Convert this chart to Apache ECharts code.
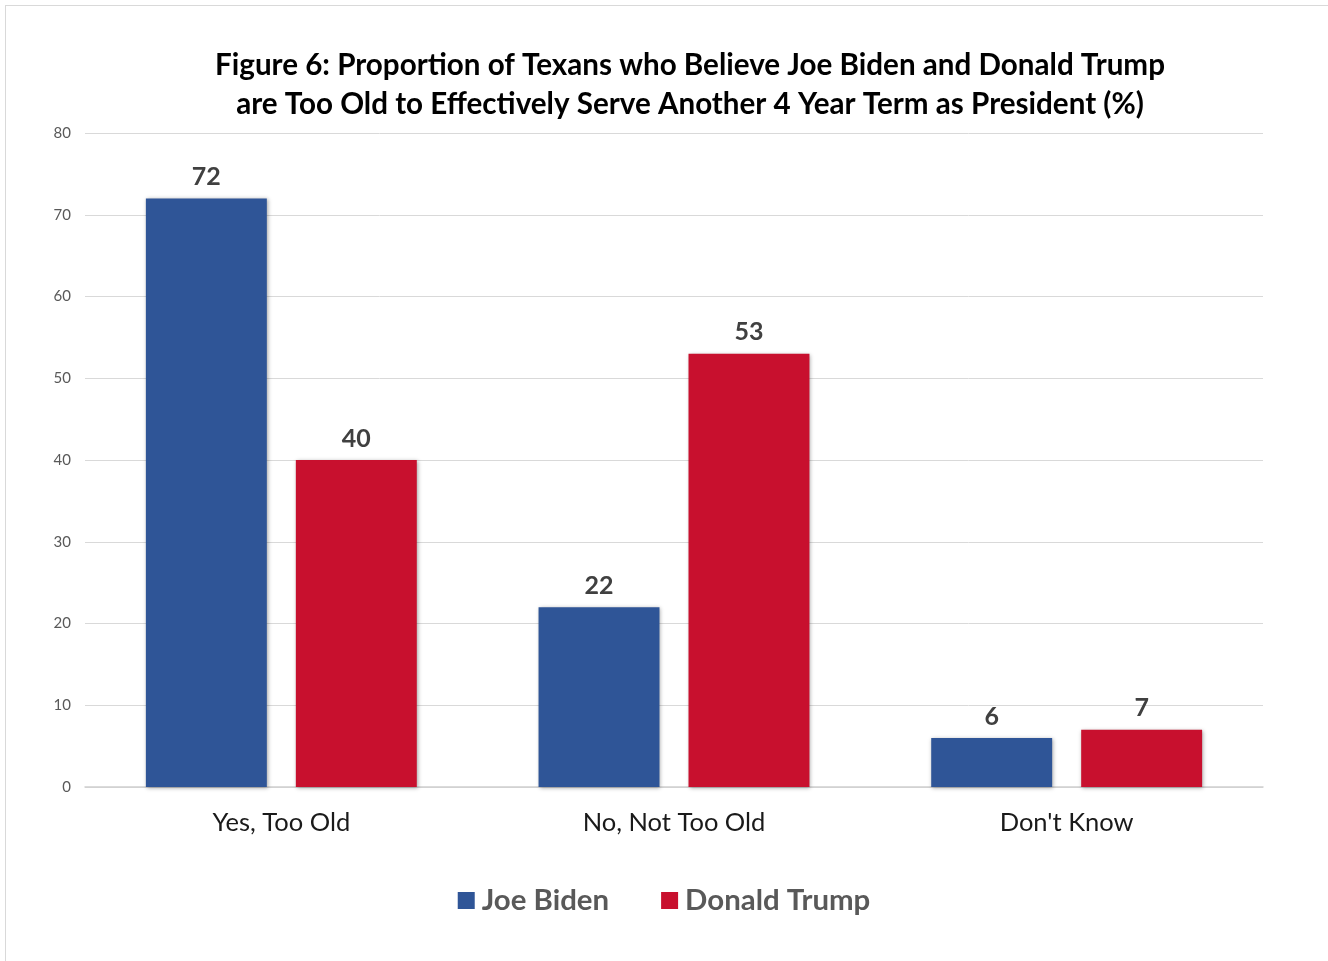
<!DOCTYPE html>
<html>
<head>
<meta charset="utf-8">
<script src="https://cdn.jsdelivr.net/npm/echarts@6/dist/echarts.min.js"></script>
<style>
  html, body { margin: 0; padding: 0; background: #ffffff; }
  #frame { position: absolute; left: 5px; top: 5px; width: 1340px; height: 980px; border: 1px solid #d9d9d9; box-sizing: border-box; }
  #chart { position: absolute; left: 0; top: 0; width: 1328px; height: 961px; }
</style>
</head>
<body>
<div id="frame"></div>
<div id="chart"></div>
<script>
const categories = ['Yes, Too Old', 'No, Not Too Old', "Don't Know"];
const bidenValues = [72, 22, 6];
const trumpValues = [40, 53, 7];
const seriesNames = ['Joe Biden', 'Donald Trump'];
const titleLines = [
  'Figure 6: Proportion of Texans who Believe Joe Biden and Donald Trump',
  'are Too Old to Effectively Serve Another 4 Year Term as President (%)'
];

const FONT = 'Lato, "Open Sans", "Noto Sans", sans-serif';
const chart = echarts.init(document.getElementById('chart'), null, { renderer: 'canvas' });

const barShadow = {
  shadowBlur: 4,
  shadowColor: 'rgba(0,0,0,0.35)',
  shadowOffsetX: 1,
  shadowOffsetY: 1
};

const labelStyle = {
  show: true,
  position: 'top',
  distance: 9,
  fontFamily: FONT,
  fontWeight: 'bold',
  fontSize: 25,
  color: '#404040'
};

chart.setOption({
  backgroundColor: 'transparent',
  animation: false,
  title: {
    text: titleLines.join('\n'),
    left: 685,
    textAlign: 'center',
    top: 41,
    textStyle: {
      fontFamily: FONT,
      fontWeight: 'bold',
      fontSize: 29.6,
      lineHeight: 39,
      color: '#000000'
    }
  },
  legend: {
    data: seriesNames,
    left: 'center',
    top: 881,
    itemWidth: 17,
    itemHeight: 17,
    itemGap: 52,
    icon: 'rect',
    textStyle: {
      fontFamily: FONT,
      fontWeight: 'bold',
      fontSize: 29.4,
      color: '#595959',
      padding: [0, 0, 0, 2]
    }
  },
  grid: {
    left: 85,
    right: 65,
    top: 133,
    bottom: 174,
    containLabel: false
  },
  xAxis: {
    type: 'category',
    data: categories,
    axisTick: { show: false },
    axisLine: { show: true, lineStyle: { color: '#d0d0d0', width: 1.5 } },
    axisLabel: {
      fontFamily: FONT,
      fontSize: 25.5,
      color: '#1a1a1a',
      margin: 23
    }
  },
  yAxis: {
    type: 'value',
    min: 0,
    max: 80,
    interval: 10,
    axisLine: { show: false },
    axisTick: { show: false },
    splitLine: { lineStyle: { color: '#d9d9d9', width: 1 } },
    axisLabel: {
      fontFamily: FONT,
      fontSize: 15,
      color: '#595959',
      margin: 14
    }
  },
  series: [
    {
      name: seriesNames[0],
      type: 'bar',
      data: bidenValues,
      barWidth: '30.8%',
      barGap: '24%',
      itemStyle: Object.assign({ color: '#2f5597' }, barShadow),
      label: labelStyle
    },
    {
      name: seriesNames[1],
      type: 'bar',
      data: trumpValues,
      barWidth: '30.8%',
      itemStyle: Object.assign({ color: '#c8102e' }, barShadow),
      label: labelStyle
    }
  ]
});
</script>
</body>
</html>
